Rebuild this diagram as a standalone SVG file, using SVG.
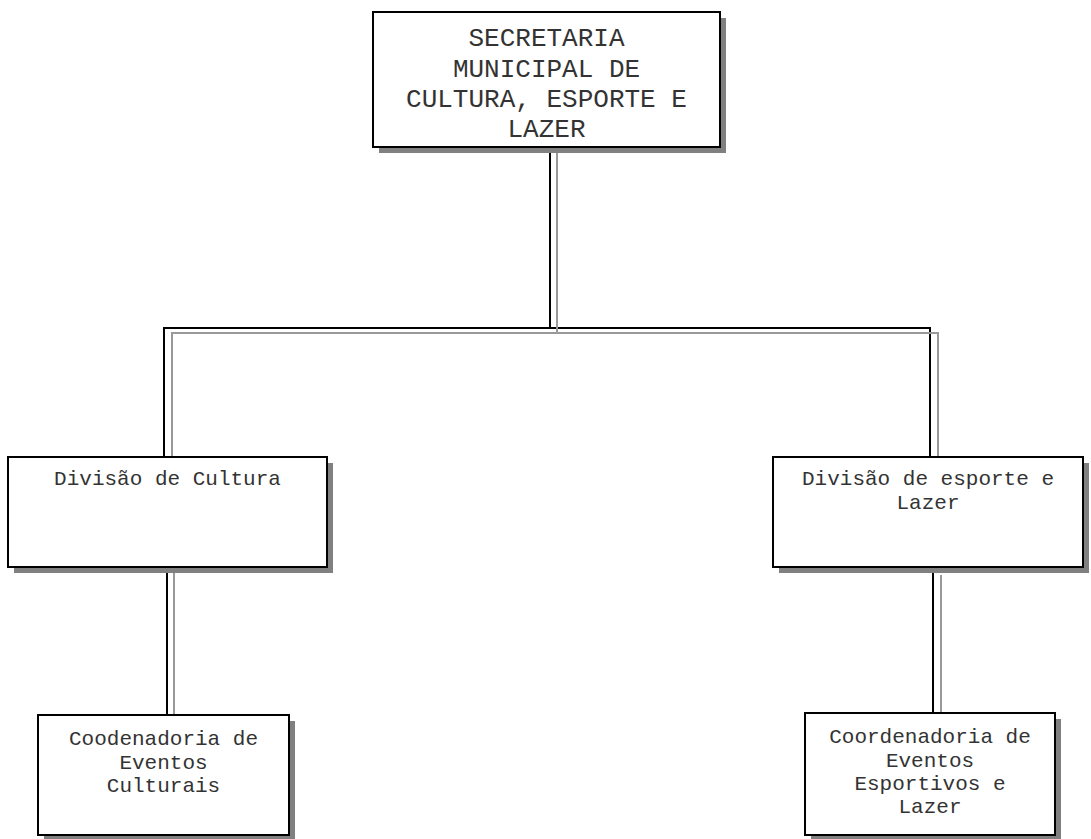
<svg xmlns="http://www.w3.org/2000/svg" width="1091" height="839" viewBox="0 0 1091 839">
<style>
.shadow{fill:#808080;stroke:none}
.box{fill:#fff;stroke:#000;stroke-width:2}
.t{font-family:"Liberation Mono","Courier New",monospace;fill:#333;text-anchor:middle}
.big{font-size:26px}
.small{font-size:21px}
.blk{stroke:#000;stroke-width:2;fill:none}
.gry{stroke:#999;stroke-width:2;fill:none}
</style>
<rect width="1091" height="839" fill="#fff"/>
<g id="connectors">
<path class="blk" d="M550 147V327M164 458V328H930V458"/>
<path class="gry" d="M557 153V333M172 463V333H938V463"/>
<path class="blk" d="M167 567V715M933 567V713"/>
<path class="gry" d="M174 573V718M941 575V718"/>
</g>
<g id="secretaria">
<rect class="shadow" x="379" y="18" width="347" height="135"/>
<rect class="box" x="373" y="12" width="347" height="135"/>
<text class="t big" x="546.5" y="46">SECRETARIA</text>
<text class="t big" x="546.5" y="77">MUNICIPAL DE</text>
<text class="t big" x="546.5" y="107">CULTURA, ESPORTE E</text>
<text class="t big" x="546.5" y="137">LAZER</text>
</g>
<g id="div-cultura">
<rect class="shadow" x="14" y="463" width="319" height="110"/>
<rect class="box" x="8" y="457" width="319" height="110"/>
<text class="t small" x="167.5" y="485">Divisão de Cultura</text>
</g>
<g id="div-esporte">
<rect class="shadow" x="779" y="463" width="310" height="110"/>
<rect class="box" x="773" y="457" width="310" height="110"/>
<text class="t small" x="928" y="485">Divisão de esporte e</text>
<text class="t small" x="928" y="509">Lazer</text>
</g>
<g id="coord-cultura">
<rect class="shadow" x="44" y="721" width="251" height="120"/>
<rect class="box" x="38" y="715" width="251" height="120"/>
<text class="t small" x="163.5" y="745">Coodenadoria de</text>
<text class="t small" x="163.5" y="769">Eventos</text>
<text class="t small" x="163.5" y="792">Culturais</text>
</g>
<g id="coord-esporte">
<rect class="shadow" x="811" y="719" width="250" height="122"/>
<rect class="box" x="805" y="713" width="250" height="122"/>
<text class="t small" x="930" y="743">Coordenadoria de</text>
<text class="t small" x="930" y="767">Eventos</text>
<text class="t small" x="930" y="790">Esportivos e</text>
<text class="t small" x="930" y="813">Lazer</text>
</g>
</svg>
